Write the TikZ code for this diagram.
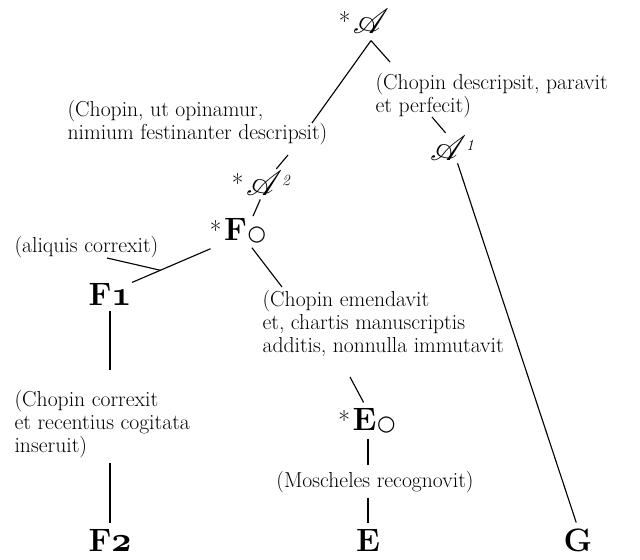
\documentclass[tikz,border=0pt]{standalone}
\usepackage{fontspec}
\usepackage{mathrsfs}
\usetikzlibrary{positioning}
\newfontfamily\ringfont{DejaVu Sans}
\newcommand{\ring}{\hspace{0.5pt}{\ringfont\fontsize{15}{15}\selectfont ○}}
\newcommand{\supnum}[1]{\raisebox{7pt}{\fontsize{11}{11}\selectfont\itshape #1}}
\newcommand{\osnum}[1]{{\usefont{OML}{cmm}{b}{it}#1}}

\begin{document}
\begin{tikzpicture}[x=0.025cm, y=-0.025cm, line width=0.8pt,
    every node/.style={inner sep=0pt, font=\fontsize{15.4}{16.3}\selectfont},
    note/.style={align=left, anchor=north west},
    siglum/.style={anchor=base, font=\fontsize{23}{23}\selectfont\bfseries},
    script/.style={anchor=base, font=\fontsize{30}{30}\selectfont},
    conj/.style={font=\fontsize{18}{18}\selectfont, inner sep=0pt},
    lost/.style={label={[conj, label distance=1pt]left:*}}]
    \useasboundingbox (0,0) rectangle (640,560);

    % --- СИГЛЫ ---
    \node[script, lost] (A)  at (371,33)  {$\mathscr{A}$};
    \node[script]       (A1) at (452,160) {$\mathscr{A}$\supnum{1}};
    \node[script, lost] (A2) at (268,195) {$\mathscr{A}$\supnum{2}};
    \node[siglum, lost] (F0) at (245,240) {F\ring};
    \node[siglum]       (F1) at (110,305) {F\osnum{1}};
    \node[siglum]       (F2) at (110,551) {F\osnum{2}};
    \node[siglum, lost] (E0) at (374,430) {E\ring};
    \node[siglum]       (E)  at (368,551) {E};
    \node[siglum]       (G)  at (578,551) {G};

    % --- ПОМЕТКИ ---
    \node[note] (nA1) at (375,73)  {(Chopin descripsit, paravit\\et perfecit)};
    \node[note] (nA2) at (67,100)  {(Chopin, ut opinamur,\\nimium festinanter descripsit)};
    \node[note] (nF1) at (14,236)  {(aliquis correxit)};
    \node[note] (nE0) at (262,290) {(Chopin emendavit\\et, chartis manuscriptis\\additis, nonnulla immutavit};
    \node[note] (nF2) at (14,390)  {(Chopin correxit\\et recentius cogitata\\inseruit)};
    \node (nE) at (375,482) {(Moscheles recognovit)};

    % --- КОНЦЫ ЛИНИЙ У ПОМЕТОК ---
    \coordinate[below=5pt of A] (Afoot);
    \coordinate (kA2)  at (312,123);
    \coordinate (kA2b) at (288,155);
    \coordinate (kA1)  at (390,62);
    \coordinate (kA1b) at (432,117);
    \coordinate (kF1)  at (107,258);
    \coordinate (kE0)  at (282,287);
    \coordinate (kE0b) at (350,377);

    % --- ЛИНИИ ---
    \draw (Afoot) -- (kA2);
    \draw (Afoot) -- (kA1);
    \draw[shorten >=2pt] (kA1b) -- (A1.110);
    \draw[shorten <=2pt, shorten >=4pt] (A1.-70) -- (G.north);
    \draw[shorten >=1pt] (kA2b) -- (A2.60);
    \draw[shorten <=3pt, shorten >=1pt] (A2.-115) -- (F0.60);
    \draw[shorten <=10pt] (F0.south west) -- (F1.north east) coordinate[pos=0.69] (mF);
    \draw (kF1) -- (mF);
    \draw[shorten <=4pt] (F0.-75) -- (kE0);
    \draw[shorten >=4pt] (kE0b) -- (E0.121);
    \draw[shorten <=4pt, shorten >=4pt] (E0.south -| E.north) -- (nE.north -| E.north);
    \draw[shorten <=3pt, shorten >=4pt] (nE.south -| E.north) -- (E.north);
    \draw[shorten <=4pt, shorten >=14pt] (F1.south) -- (nF2.north -| F1.south);
    \draw[shorten <=3pt, shorten >=4pt] (nF2.south -| F2.north) -- (F2.north);

\end{tikzpicture}
\end{document}
